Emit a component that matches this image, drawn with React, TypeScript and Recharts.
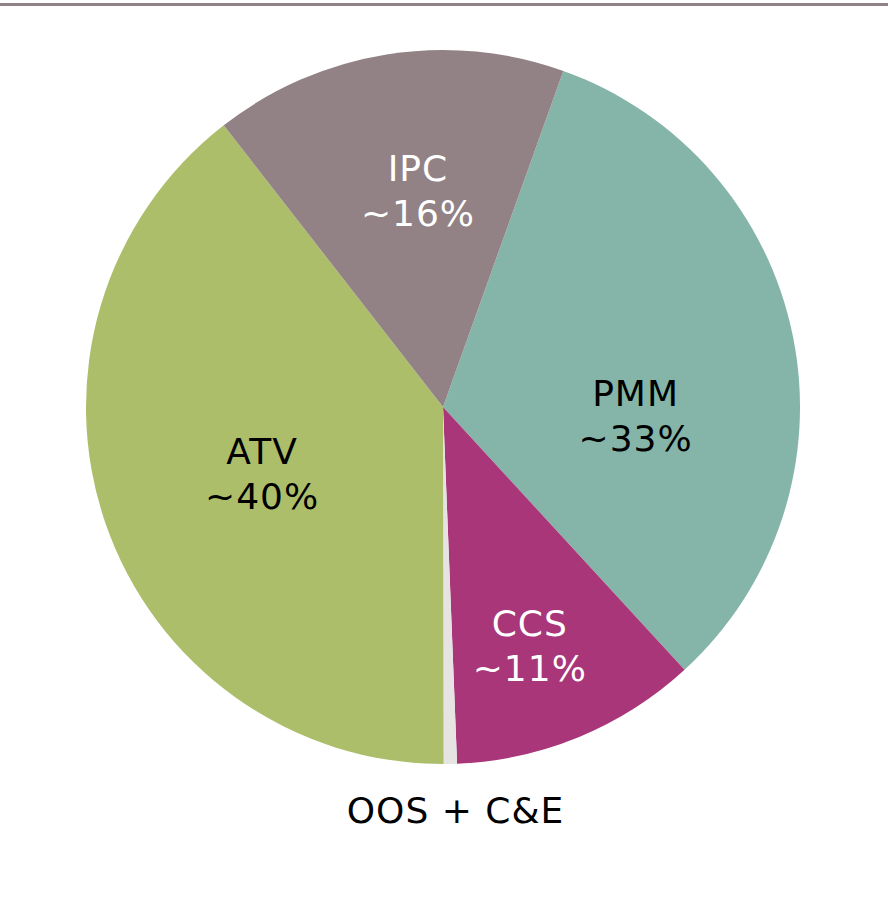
import React from "react";
import { PieChart, Pie, Cell } from "recharts";

// slices in clockwise order, starting at the IPC / PMM edge
const names = ["PMM", "CCS", "OOS + C&E", "ATV", "IPC"];
const shares = [32.7, 11.2, 0.6, 39.5, 16.0];
const shareLabels = ["~33%", "~11%", "", "~40%", "~16%"];
const colors = ["#85b5a8", "#a83679", "#e6e3e3", "#adbe6a", "#928285"];
const textColors = ["#000000", "#ffffff", "#000000", "#000000", "#ffffff"];

const data = names.map((name, i) => ({ name, value: shares[i], pct: shareLabels[i] }));

const RAD = Math.PI / 180;
const FONT = "'DejaVu Sans', Verdana, sans-serif";
const FONT_SIZE = 36;
const LINE_GAP = 45;
const CAP = 26;

// label placement: [radius as share of outer radius, angle nudge in degrees]
const LABEL_PLACE: Record<string, [number, number]> = {
  PMM: [0.54, -14],
  CCS: [0.71, -2.4],
  "OOS + C&E": [1.13, 0.6],
  ATV: [0.54, 1.2],
  IPC: [0.61, -2.5],
};

function SliceLabel(props: any) {
  const { cx, cy, midAngle, outerRadius, name, index, payload } = props;
  const [k, nudge] = LABEL_PLACE[name] ?? [0.6, 0];
  const a = (midAngle + nudge) * RAD;
  const x = cx + outerRadius * k * Math.cos(-a);
  const y = cy + outerRadius * k * Math.sin(-a);
  const pct = payload?.pct ?? "";
  const fill = textColors[index];
  if (!pct) {
    return (
      <text x={x} y={y + CAP / 2} textAnchor="middle" fill={fill} fontFamily={FONT} fontSize={FONT_SIZE} letterSpacing={1}>
        {name}
      </text>
    );
  }
  return (
    <text textAnchor="middle" fill={fill} fontFamily={FONT} fontSize={FONT_SIZE} letterSpacing={1}>
      <tspan x={x} y={y - LINE_GAP / 2 + CAP / 2}>{name}</tspan>
      <tspan x={x} y={y + LINE_GAP / 2 + CAP / 2}>{pct}</tspan>
    </text>
  );
}

export default function App() {
  return (
    <div style={{ position: "absolute", left: 0, top: 0, width: 888, height: 903, background: "#fff" }}>
      <div style={{ position: "absolute", left: 0, top: 3, width: 888, height: 3, background: "#8f8385" }} />
      <PieChart width={888} height={903} margin={{ top: 0, right: 0, bottom: 0, left: 0 }}>
        <Pie
          data={data}
          dataKey="value"
          nameKey="name"
          cx={443}
          cy={407}
          outerRadius={357}
          startAngle={70.3}
          endAngle={-289.7}
          stroke="none"
          labelLine={false}
          label={SliceLabel}
          isAnimationActive={false}
        >
          {data.map((d, i) => (
            <Cell key={d.name} fill={colors[i]} />
          ))}
        </Pie>
      </PieChart>
    </div>
  );
}
